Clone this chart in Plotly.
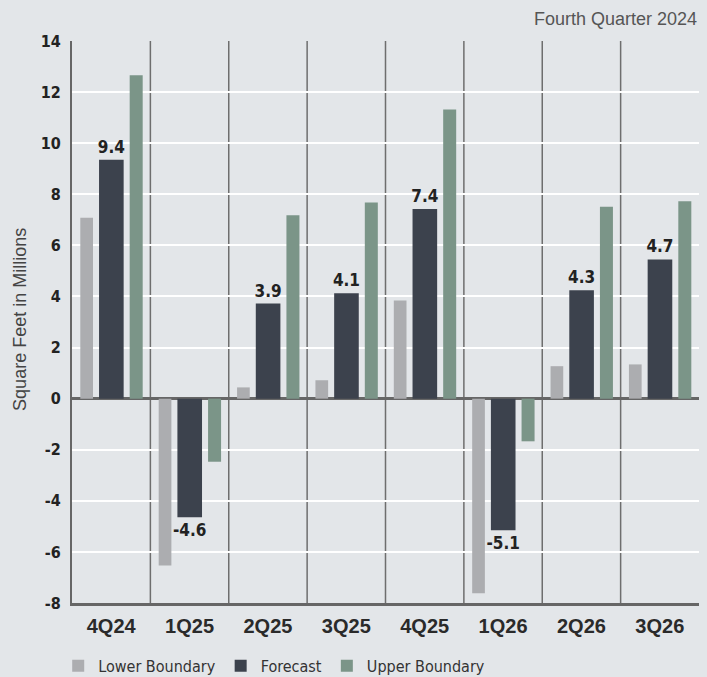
import plotly.graph_objects as go

categories = ["4Q24", "1Q25", "2Q25", "3Q25", "4Q25", "1Q26", "2Q26", "3Q26"]
lower_boundary = [7.08, -6.53, 0.44, 0.72, 3.84, -7.62, 1.27, 1.34]
forecast = [9.35, -4.64, 3.72, 4.13, 7.42, -5.15, 4.24, 5.45]
upper_boundary = [12.66, -2.47, 7.18, 7.68, 11.32, -1.67, 7.51, 7.73]
forecast_labels = ["9.4", "-4.6", "3.9", "4.1", "7.4", "-5.1", "4.3", "4.7"]
y_ticks = list(range(-8, 15, 2))
y_tick_labels = [str(v) for v in y_ticks]

NARROW = "DejaVu Sans Condensed, Liberation Sans Narrow, Arial Narrow, sans-serif"
SANS = "Liberation Sans, Arial, Helvetica, sans-serif"
BG = "#e3e6e9"
AXIS = "#666666"

fig = go.Figure()
fig.add_trace(go.Bar(
    x=categories, y=lower_boundary, name="Lower Boundary",
    marker=dict(color="#acadb0", line=dict(width=0)),
    offset=-0.394, width=0.162,
))
fig.add_trace(go.Bar(
    x=categories, y=forecast, name="Forecast",
    marker=dict(color="#3c424d", line=dict(width=0)),
    offset=-0.155, width=0.314,
    text=forecast_labels, textposition="outside", constraintext="none",
    textfont=dict(family=NARROW, size=17, color="#222222", weight="bold"),
    outsidetextfont=dict(family=NARROW, size=17, color="#222222", weight="bold"),
    cliponaxis=False,
))
fig.add_trace(go.Bar(
    x=categories, y=upper_boundary, name="Upper Boundary",
    marker=dict(color="#7b9588", line=dict(width=0)),
    offset=0.236, width=0.166,
))

# category separators
for i in range(len(categories) - 1):
    fig.add_shape(type="line", xref="x", yref="y",
                  x0=i + 0.5, x1=i + 0.5, y0=y_ticks[0], y1=y_ticks[-1],
                  line=dict(color="#6e6e6e", width=1.5), layer="below")

fig.add_annotation(text="Fourth Quarter 2024", xref="paper", yref="paper",
                   x=1.0, y=1.039, xanchor="right", yanchor="middle",
                   showarrow=False, font=dict(family=SANS, size=18, color="#555555"))
fig.add_annotation(text="Square Feet in Millions", xref="paper", yref="paper",
                   x=-0.0834, y=0.505, xanchor="center", yanchor="middle",
                   textangle=-90, showarrow=False,
                   font=dict(family=SANS, size=18, color="#444444"))

fig.update_layout(
    width=707, height=677,
    margin=dict(l=72, r=8, t=41, b=74, autoexpand=False),
    paper_bgcolor=BG, plot_bgcolor=BG,
    barmode="overlay",
    showlegend=True,
    legend=dict(orientation="h", x=-0.022, xanchor="left", y=-0.112, yanchor="middle",
                font=dict(family=NARROW, size=16, color="#333333"),
                bgcolor="rgba(0,0,0,0)", itemwidth=30, traceorder="normal"),
    xaxis=dict(
        type="category", range=[-0.5, len(categories) - 0.5],
        showgrid=False, showline=True, linecolor=AXIS, linewidth=2.5,
        ticks="", ticklabelstandoff=3, automargin=False,
        tickfont=dict(family=SANS, size=20, color="#2a2a2a", weight="bold"),
        fixedrange=True,
    ),
    yaxis=dict(
        range=[y_ticks[0], y_ticks[-1]], tickvals=y_ticks, ticktext=y_tick_labels,
        showgrid=True, gridcolor="#ffffff", gridwidth=1.5,
        zeroline=True, zerolinecolor=AXIS, zerolinewidth=2.5,
        showline=True, linecolor=AXIS, linewidth=2,
        ticks="", ticklabelstandoff=6, automargin=False,
        tickfont=dict(family=NARROW, size=16, color="#222222", weight="bold"),
        fixedrange=True,
    ),
)

fig.write_html("out.html")
